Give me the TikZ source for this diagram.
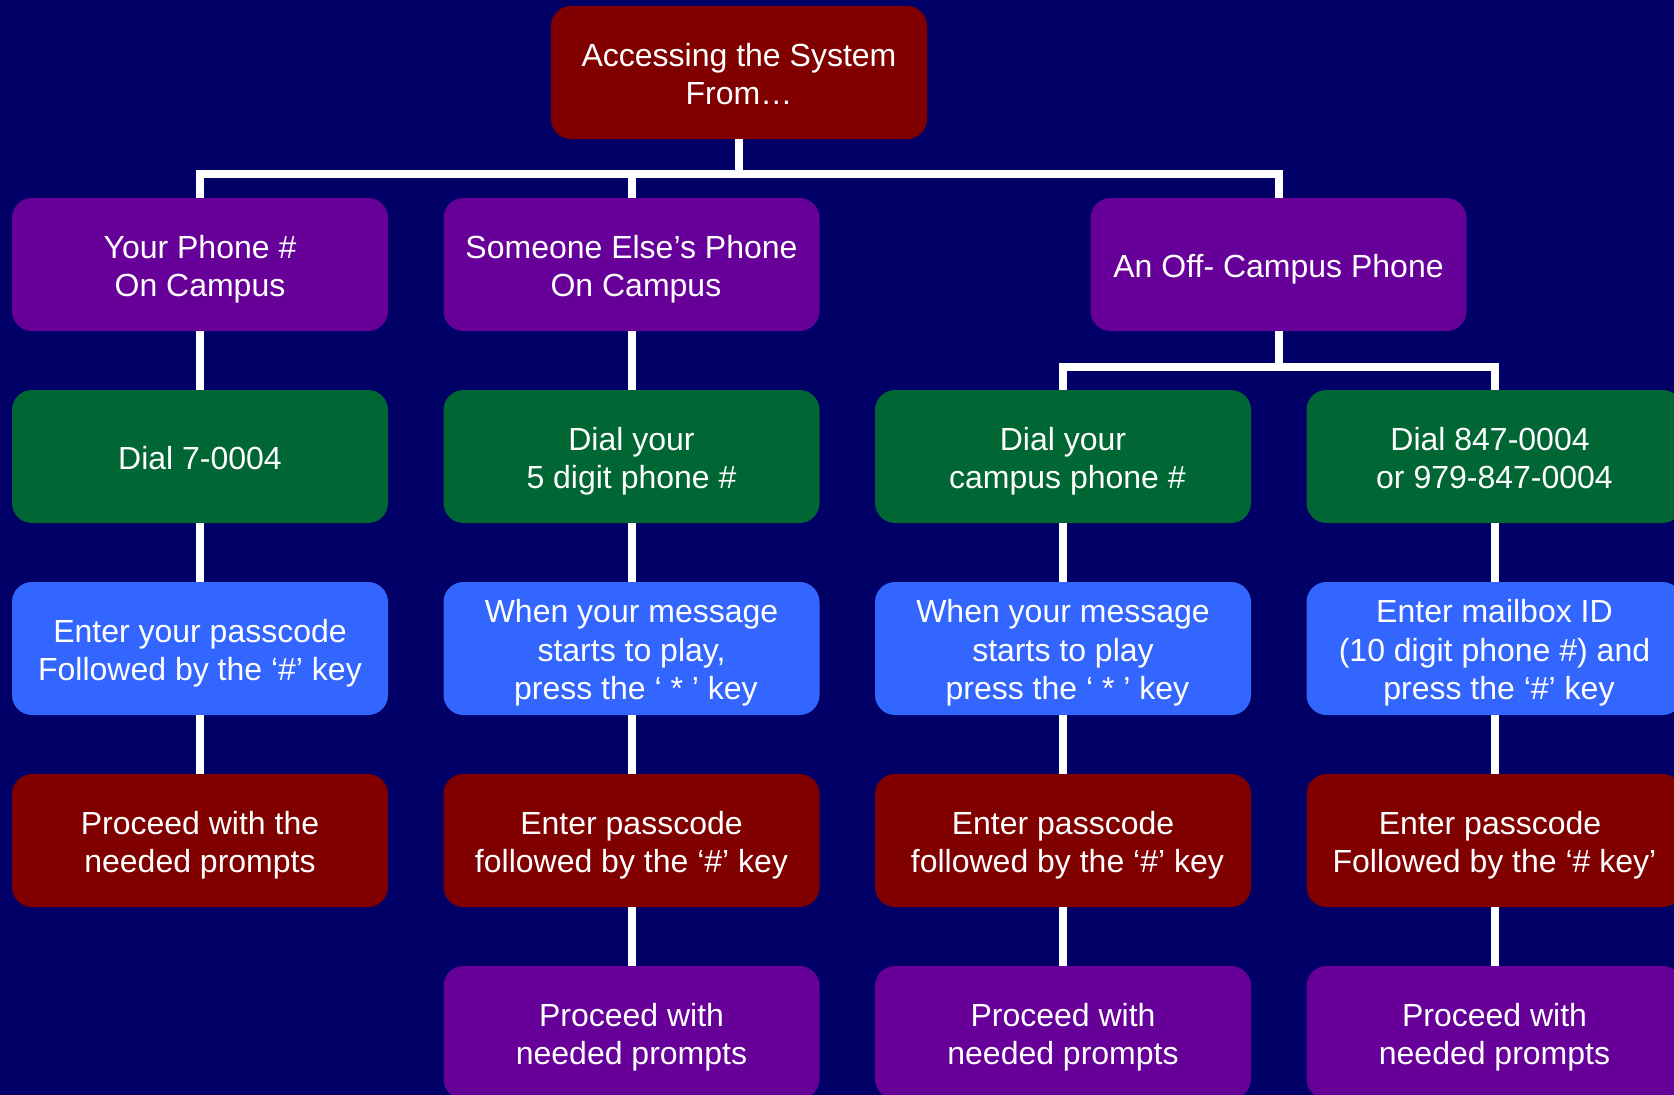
\documentclass[tikz,border=0pt]{standalone}
\usepackage{fontspec}
\setmainfont{Liberation Sans}
\definecolor{bgnavy}{HTML}{000066}
\definecolor{boxred}{HTML}{800000}
\definecolor{boxpurple}{HTML}{660099}
\definecolor{boxgreen}{HTML}{006633}
\definecolor{boxblue}{HTML}{3366FF}
\newcommand\spL{\hspace*{0.278em}}
\newcommand\spR{\kern0.278em}
\newcommand\sT{\rule{0pt}{33pt}}
\begin{document}
\begin{tikzpicture}[x=1pt,y=-1pt,
  card/.style={rounded corners=20pt, minimum width=376pt, minimum height=133pt,
    inner sep=0pt, text=white, align=center, text depth=7.6pt,
    font=\fontsize{32}{38.3}\selectfont},
  redc/.style={card, fill=boxred},
  purplec/.style={card, fill=boxpurple},
  greenc/.style={card, fill=boxgreen},
  bluec/.style={card, fill=boxblue},
  link/.style={draw=white, line width=8pt}]
\useasboundingbox (0,0) rectangle (1674,1095);
\fill[bgnavy] (0,0) rectangle (1674,1095);
\clip (0,0) rectangle (1674,1095);

% top
\node[redc] (top) at (739,72.5) {\sT Accessing the System\\From…};
% row 1
\node[purplec] (a1) at (200,264.5) {\sT Your Phone \#\\On Campus};
\node[purplec] (b1) at (631.5,264.5) {\sT Someone Else’s Phone\\\spL On Campus};
\node[purplec] (off) at (1278.5,264.5) {\sT An Off- Campus Phone};
% row 2
\node[greenc] (a2) at (200,456.5) {\sT Dial 7-0004};
\node[greenc] (b2) at (631.5,456.5) {\sT Dial your\\5 digit phone \#};
\node[greenc] (c2) at (1063,456.5) {\sT Dial your\\\spL campus phone \#};
\node[greenc] (d2) at (1494.5,456.5) {\sT Dial 847-0004\spR\\or 979-847-0004};
% row 3
\node[bluec] (a3) at (200,648.5) {\sT Enter your passcode\\Followed by the ‘\#’ key};
\node[bluec] (b3) at (631.5,648.5) {\sT When your message\\starts to play,\\\spL press the ‘ * ’ key};
\node[bluec] (c3) at (1063,648.5) {\sT When your message\\starts to play\\\spL press the ‘ * ’ key};
\node[bluec] (d3) at (1494.5,648.5) {\sT Enter mailbox ID\\(10 digit phone \#) and\\\spL press the ‘\#’ key};
% row 4
\node[redc] (a4) at (200,840.5) {\sT Proceed with the\\needed prompts};
\node[redc] (b4) at (631.5,840.5) {\sT Enter passcode\\followed by the ‘\#’ key};
\node[redc] (c4) at (1063,840.5) {\sT Enter passcode\\\spL followed by the ‘\#’ key};
\node[redc] (d4) at (1494.5,840.5) {\sT Enter passcode\spR\\Followed by the ‘\# key’};
% row 5
\node[purplec] (b5) at (631.5,1032.5) {\sT Proceed with\\needed prompts};
\node[purplec] (c5) at (1063,1032.5) {\sT Proceed with\\needed prompts};
\node[purplec] (d5) at (1494.5,1032.5) {\sT Proceed with\\needed prompts};

% connectors
\coordinate (barA) at (0,174);
\coordinate (barB) at (0,366.7);
\draw[link] (top.south) -- (top.south |- barA);
\draw[link] (a1.north) -- (a1.north |- barA) -- (off.north |- barA) -- (off.north);
\draw[link] (b1.north) -- (b1.north |- barA);
\draw[link] (off.south) -- (off.south |- barB);
\draw[link] (c2.north) -- (c2.north |- barB) -- (d2.north |- barB) -- (d2.north);

\draw[link] (a1.south) -- (a2.north);
\draw[link] (a2.south) -- (a3.north);
\draw[link] (a3.south) -- (a4.north);
\draw[link] (b1.south) -- (b2.north);
\draw[link] (b2.south) -- (b3.north);
\draw[link] (b3.south) -- (b4.north);
\draw[link] (b4.south) -- (b5.north);
\draw[link] (c2.south) -- (c3.north);
\draw[link] (c3.south) -- (c4.north);
\draw[link] (c4.south) -- (c5.north);
\draw[link] (d2.south) -- (d3.north);
\draw[link] (d3.south) -- (d4.north);
\draw[link] (d4.south) -- (d5.north);
\end{tikzpicture}
\end{document}
